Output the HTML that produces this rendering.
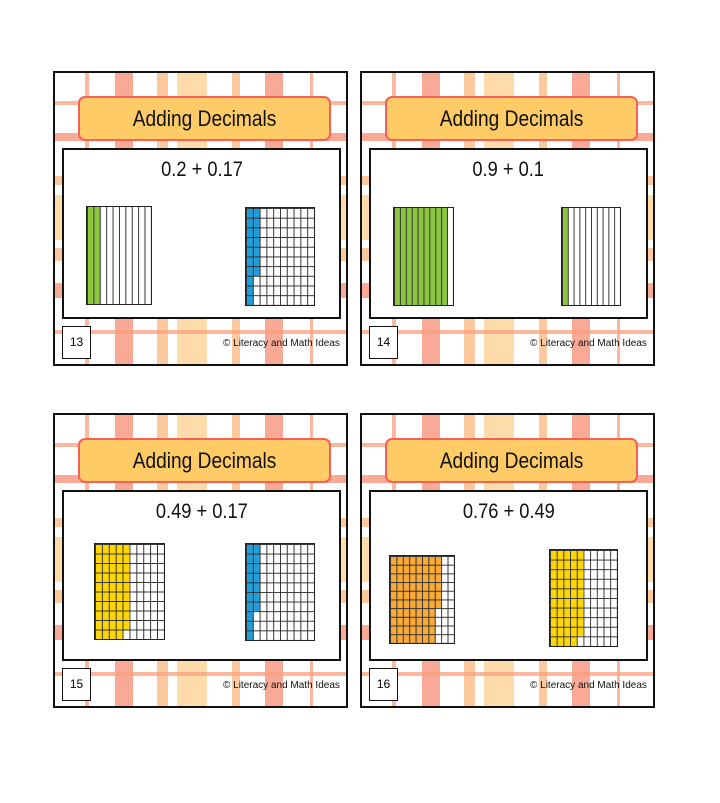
<!DOCTYPE html>
<html><head><meta charset="utf-8"><style>
body{margin:0;width:720px;height:803px;background:#fff;position:relative;overflow:hidden;font-family:"Liberation Sans",sans-serif}
.card{position:absolute;width:295px;height:295px;box-sizing:border-box;border:2px solid #111;background:#fff;overflow:hidden}
.s{position:absolute;opacity:.75}
.v{top:0;height:100%}.h{left:0;width:100%}
.sal{background:#f58e74}.org{background:#fbb57c}.pch{background:#fdcf8e}.thin{background:#f9a07e}
.title{position:absolute;left:23px;top:23px;width:253px;height:45px;box-sizing:border-box;background:#ffcb66;border:2px solid #f5605a;border-radius:7px;text-align:center;font-size:22px;line-height:41px;color:#111}
.title span,.eq span{display:inline-block;transform:scaleX(0.87)}
.panel{position:absolute;left:7px;top:75px;width:279px;height:171px;box-sizing:border-box;background:#fff;border:2.5px solid #111}
.eq{position:absolute;left:0;width:100%;top:8px;text-align:center;font-size:21px;color:#111}
.num{position:absolute;left:7px;top:253px;width:29px;height:33px;box-sizing:border-box;border:1.5px solid #111;background:#fff;font-size:12px;text-align:center;line-height:30px}
.cp{position:absolute;left:168px;top:265px;font-size:10px;color:#111}
.m{position:absolute;box-sizing:border-box;border:1.5px solid #222;overflow:hidden}
.m .f{position:absolute}
.m .g{position:absolute;left:0;top:0;right:0;bottom:0;background-image:linear-gradient(90deg,#333 1px,transparent 1px);background-size:10% 100%}
.m .gg{position:absolute;left:0;top:0;right:0;bottom:0;background-image:linear-gradient(90deg,#333 1px,transparent 1px),linear-gradient(#333 1px,transparent 1px);background-size:10% 10%}
</style></head><body>
<script>
function plaid(){return '<div class="s v thin" style="left:30px;width:4px"></div><div class="s v sal" style="left:60px;width:18px"></div><div class="s v org" style="left:102px;width:11px"></div><div class="s v pch" style="left:122px;width:30px"></div><div class="s v org" style="left:177px;width:8px"></div><div class="s v sal" style="left:210px;width:18px"></div><div class="s v thin" style="left:255px;width:3px"></div>'+
'<div class="s h thin" style="top:28px;height:4px"></div><div class="s h sal" style="top:60px;height:8px"></div><div class="s h org" style="top:103px;height:9px"></div><div class="s h pch" style="top:122px;height:45px"></div><div class="s h org" style="top:175px;height:13px"></div><div class="s h sal" style="top:210px;height:15px"></div><div class="s h thin" style="top:257px;height:4px"></div>';}
function tenths(x,y,w,h,n,c){return '<div class="m" style="left:'+x+'px;top:'+y+'px;width:'+w+'px;height:'+h+'px"><div class="f" style="left:0;top:0;height:100%;width:'+(n*10)+'%;background:'+c+'"></div><div class="g"></div></div>';}
function hund(x,y,w,h,n,c){var cols=Math.floor(n/10),r=n%10;var s='<div class="m" style="left:'+x+'px;top:'+y+'px;width:'+w+'px;height:'+h+'px"><div class="f" style="left:0;top:0;height:100%;width:'+(cols*10)+'%;background:'+c+'"></div>';if(r)s+='<div class="f" style="left:'+(cols*10)+'%;top:0;width:10%;height:'+(r*10)+'%;background:'+c+'"></div>';return s+'<div class="gg"></div></div>';}
var G='#8cc63f',B='#1e9fdc',Y='#ffd700',O='#f9a935';
var cards=[
[53,71,'0.2 + 0.17','13',tenths(31,133,66,99,2,G)+hund(190,134,70,99,17,B)],
[360,71,'0.9 + 0.1','14',tenths(31,134,61,99,9,G)+tenths(199,134,60,99,1,G)],
[53,413,'0.49 + 0.17','15',hund(39,128,71,97,49,Y)+hund(190,128,70,98,17,B)],
[360,413,'0.76 + 0.49','16',hund(27,140,66,89,76,O)+hund(187,134,69,98,49,Y)]];
var out='';
cards.forEach(function(c){
out+='<div class="card" style="left:'+c[0]+'px;top:'+c[1]+'px">'+plaid()+'<div class="title"><span>Adding Decimals</span></div><div class="panel"><div class="eq"><span>'+c[2]+'</span></div></div>'+c[4]+'<div class="num">'+c[3]+'</div><div class="cp">© Literacy and Math Ideas</div></div>';});
document.write(out);
</script>
</body></html>
